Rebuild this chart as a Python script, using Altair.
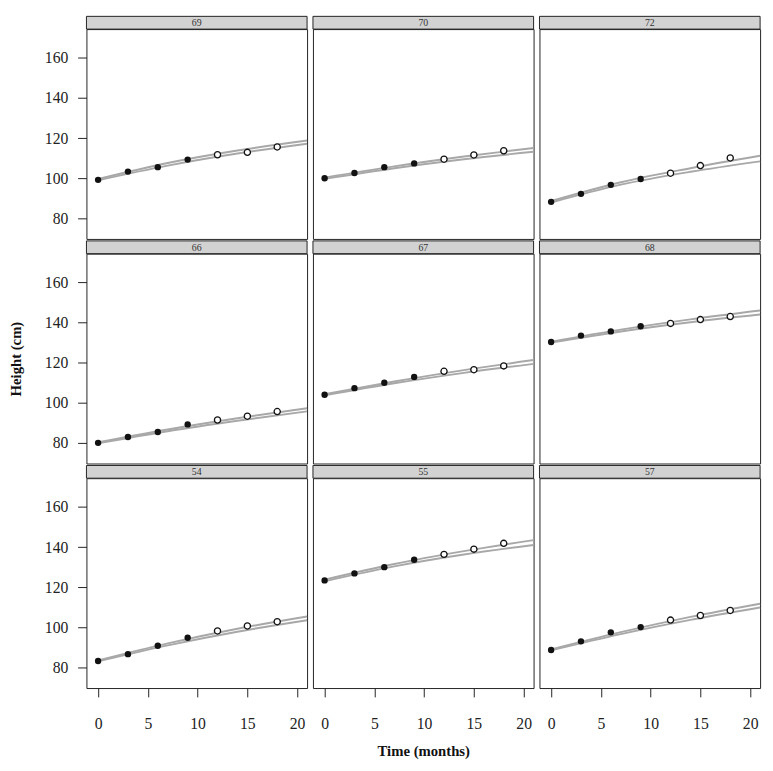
import altair as alt
import pandas as pd

# Panel order (lattice layout, top row first)
panels = ["69", "70", "72", "66", "67", "68", "54", "55", "57"]

# Observation times (months); first four filled, last three open
times = [0, 3, 6, 9, 12, 15, 18]
filled_flags = [True, True, True, True, False, False, False]

h69 = [99.2, 103.3, 105.5, 109.3, 111.7, 112.9, 115.6]
h70 = [100.0, 102.6, 105.5, 107.4, 109.5, 111.6, 113.7]
h72 = [88.2, 92.2, 96.7, 99.6, 102.5, 106.3, 110.1]
h66 = [80.0, 82.9, 85.4, 89.2, 91.4, 93.3, 95.6]
h67 = [104.0, 107.3, 110.0, 112.9, 115.7, 116.5, 118.4]
h68 = [130.3, 133.5, 135.6, 138.2, 139.6, 141.5, 143.0]
h54 = [83.2, 86.6, 90.8, 94.8, 98.2, 100.7, 102.8]
h55 = [123.4, 126.9, 130.0, 133.7, 136.4, 139.0, 141.9]
h57 = [88.7, 93.0, 97.5, 100.1, 103.6, 105.9, 108.4]

# Fitted curves (two per panel), read at these times
curve_t = [0, 7, 14, 21]
u69 = [99.6, 107.6, 113.8, 118.8]
l69 = [99.0, 106.3, 112.3, 117.2]
u70 = [100.3, 105.9, 110.8, 115.1]
l70 = [99.7, 105.0, 109.5, 113.2]
u72 = [88.6, 98.0, 105.0, 111.2]
l72 = [87.9, 96.8, 103.2, 108.4]
u66 = [80.3, 86.7, 92.3, 97.3]
l66 = [79.8, 85.8, 91.0, 95.7]
u67 = [104.3, 110.6, 116.3, 121.3]
l67 = [103.7, 109.7, 114.9, 119.4]
u68 = [130.5, 136.5, 141.6, 146.0]
l68 = [130.0, 135.6, 140.2, 144.0]
u54 = [83.5, 92.0, 99.3, 105.4]
l54 = [83.0, 91.0, 97.8, 103.5]
u55 = [123.8, 131.6, 138.0, 143.5]
l55 = [123.0, 130.4, 136.3, 141.1]
u57 = [89.0, 97.6, 105.2, 111.8]
l57 = [88.5, 96.6, 103.7, 109.9]

y_ticks = [80, 100, 120, 140, 160]
x_ticks = [0, 5, 10, 15, 20]

obs = {"69": h69, "70": h70, "72": h72, "66": h66, "67": h67,
       "68": h68, "54": h54, "55": h55, "57": h57}
upper = {"69": u69, "70": u70, "72": u72, "66": u66, "67": u67,
         "68": u68, "54": u54, "55": u55, "57": u57}
lower = {"69": l69, "70": l70, "72": l72, "66": l66, "67": l67,
         "68": l68, "54": l54, "55": l55, "57": l57}

rows = []
for p in panels:
    for t, h, f in zip(times, obs[p], filled_flags):
        rows.append({"panel": p, "kind": "obs", "t": t, "h": h, "filled": f, "curve": ""})
    for t, h in zip(curve_t, upper[p]):
        rows.append({"panel": p, "kind": "curve", "t": t, "h": h, "filled": False, "curve": "upper"})
    for t, h in zip(curve_t, lower[p]):
        rows.append({"panel": p, "kind": "curve", "t": t, "h": h, "filled": False, "curve": "lower"})
    rows.append({"panel": p, "kind": "strip", "t": 0, "h": 0, "filled": False, "curve": ""})
df = pd.DataFrame(rows)

W = 225
H = 214
STRIP = 13
FONT = "Liberation Serif"

xscale = alt.Scale(domain=[-1.17, 21], nice=False, zero=False)
yscale = alt.Scale(domain=[69.7, 174.4], nice=False, zero=False)


def panel_chart(i, p):
    col = i % 3
    row = i // 3
    if col == 0:
        yaxis = alt.Axis(values=y_ticks, labelPadding=10, titlePadding=21,
                         title="Height (cm)" if row == 1 else None)
    else:
        yaxis = None
    if row == 2:
        xaxis = alt.Axis(values=x_ticks, labelPadding=19, titlePadding=13,
                         title="Time (months)" if col == 1 else None)
    else:
        xaxis = None
    x = alt.X("t:Q", scale=xscale, axis=xaxis)
    y = alt.Y("h:Q", scale=yscale, axis=yaxis)

    base = alt.Chart(df).transform_filter(alt.datum.panel == p)

    lines = base.transform_filter("datum.kind == 'curve'").mark_line(
        color="#a8a8a8", strokeWidth=2, interpolate="monotone"
    ).encode(x=x, y=y, detail="curve:N")

    filled = base.transform_filter("datum.kind == 'obs' && datum.filled").mark_point(
        shape="circle", filled=True, color="#111111", size=42, opacity=1
    ).encode(x=x, y=y)

    opened = base.transform_filter("datum.kind == 'obs' && !datum.filled").mark_point(
        shape="circle", filled=True, fill="white", stroke="#111111", strokeWidth=1.3,
        size=40, opacity=1
    ).encode(x=x, y=y)

    strip = base.transform_filter("datum.kind == 'strip'").mark_rect(
        fill="#d2d2d2", stroke="#222222", strokeWidth=1
    ).encode(x=alt.value(0), x2=alt.value(W), y=alt.value(-STRIP), y2=alt.value(0))

    strip_text = base.transform_filter("datum.kind == 'strip'").mark_text(
        font=FONT, fontSize=10, color="#333333", baseline="middle", align="center"
    ).encode(x=alt.value(W / 2), y=alt.value(-STRIP / 2 + 0.5), text="panel:N")

    return alt.layer(lines, filled, opened, strip, strip_text).properties(
        width=W, height=H
    )


charts = [panel_chart(i, p) for i, p in enumerate(panels)]

chart = alt.concat(*charts, columns=3, spacing=0).properties(
    padding=0
).configure_view(
    stroke="#222222", strokeWidth=1
).configure_axis(
    grid=False, domain=False, tickColor="#222222", tickSize=9, tickWidth=1,
    labelFont=FONT, labelFontSize=16, labelColor="#222222",
    titleFont=FONT, titleFontSize=15, titleFontWeight="bold", titleColor="#111111"
)

chart.save("out.html", embed_options={"renderer": "svg", "actions": False})
